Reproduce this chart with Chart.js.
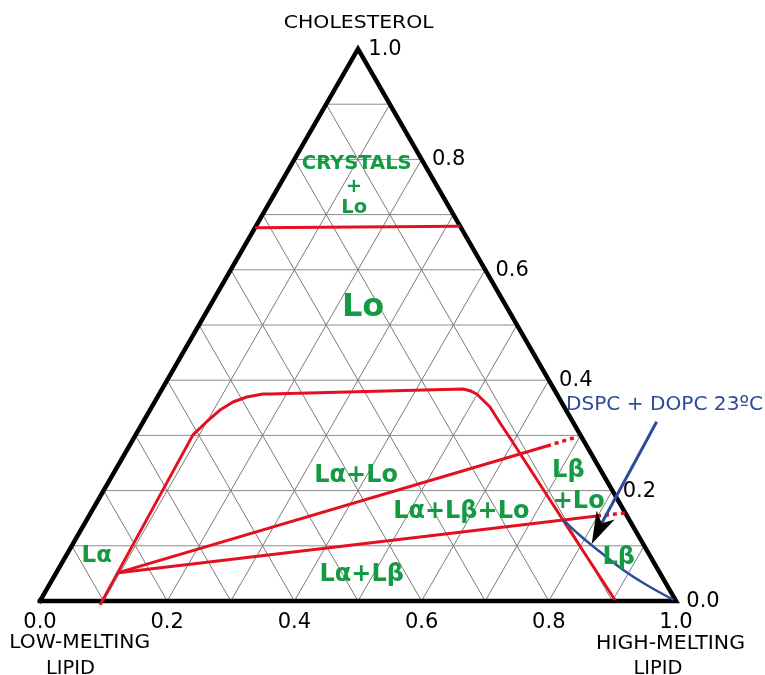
<!DOCTYPE html>
<html>
<head>
<meta charset="utf-8">
<script src="https://cdn.jsdelivr.net/npm/chart.js@4.4.0/dist/chart.umd.min.js"></script>
<style>
  html, body { margin: 0; padding: 0; background: #ffffff; }
  canvas { display: block; }
</style>
</head>
<body>
<canvas id="ternary" width="765" height="675"></canvas>
<script>
// Compositions are written as [high-melting lipid fraction, cholesterol fraction];
// the low-melting lipid fraction is whatever remains.

const bottomTickLabels = ['0.0', '0.2', '0.4', '0.6', '0.8', '1.0'];
const bottomTickValues = [0.0, 0.2, 0.4, 0.6, 0.8, 1.0];
const rightTickLabels = ['0.0', '0.2', '0.4', '0.6', '0.8', '1.0'];
const rightTickValues = [0.0, 0.2, 0.4, 0.6, 0.8, 1.0];
const gridSteps = [0.1, 0.2, 0.3, 0.4, 0.5, 0.6, 0.7, 0.8, 0.9];

const triangleCorners = [[0, 0], [1, 0], [0, 1], [0, 0]];

// Crystals + Lo / Lo boundary
const crystalsBoundary = [[0.000, 0.676], [0.321, 0.679]];

// Boundary of the liquid-ordered (Lo) region
const loBoundary = [
  [0.098, -0.007], [0.090, 0.301], [0.0997, 0.3248], [0.110, 0.346],
  [0.1232, 0.3605], [0.1402, 0.3696], [0.1631, 0.375], [0.1741, 0.375],
  [0.4731, 0.3841], [0.4856, 0.381], [0.4991, 0.375], [0.5144, 0.3641],
  [0.5318, 0.3514], [0.5621, 0.3225], [0.5914, 0.2953], [0.7489, 0.1467],
  [0.9032, 0.0018]
];

// Tie lines of the three-phase triangle
const upperTieLine = [[0.0975, 0.0513], [0.6568, 0.2808]];
const upperTieExtension = [[0.6568, 0.2808], [0.697, 0.298]];
const lowerTieLine = [[0.0975, 0.0513], [0.7988, 0.1540]];
const lowerTieExtension = [[0.7988, 0.1540], [0.8401, 0.1594]];

// DSPC + DOPC at 23 ºC
const dspcDopcBoundary = [
  [0.7494, 0.1467], [0.7974, 0.1136], [0.8358, 0.0893],
  [0.8890, 0.0562], [0.9394, 0.0290], [0.995, 0.002]
];

// Pointer from the caption to the DSPC + DOPC curve: start, arrowhead base, tip
const pointerLine = [[0.8072, 0.3248], [0.8128, 0.1408]];
const pointerTip = [0.8158, 0.1033];

// Region names
const phaseLabels = ['CRYSTALS', '+', 'Lo', 'Lo', 'Lα+Lo', 'Lα+Lβ+Lo', 'Lα+Lβ', 'Lα', 'Lβ', '+Lo', 'Lβ'];

const SQ = Math.sqrt(3) / 2;
const toXY = ([h, c]) => ({ x: h + c / 2, y: c * SQ });

const RED = '#e5101f';
const GREEN = '#149a42';
const BLUE = '#2d4b9b';

function pathSet(points, color, width, order, extra) {
  return Object.assign({
    data: points.map(toXY),
    showLine: true,
    borderColor: color,
    backgroundColor: color,
    borderWidth: width,
    pointRadius: 0,
    pointHoverRadius: 0,
    fill: false,
    tension: 0,
    clip: false,
    order: order
  }, extra || {});
}

const datasets = [];
gridSteps.forEach(k => {
  datasets.push(pathSet([[0, k], [1 - k, k]], '#8c8c8c', 1, 10));
  datasets.push(pathSet([[k, 0], [k, 1 - k]], '#7a7a7a', 1, 10));
  datasets.push(pathSet([[1 - k, 0], [0, 1 - k]], '#7a7a7a', 1, 10));
});
datasets.push(pathSet(triangleCorners, '#000000', 4.5, 5, { borderJoinStyle: 'miter', borderCapStyle: 'square' }));
datasets.push(pathSet(crystalsBoundary, RED, 3, 3));
datasets.push(pathSet(loBoundary, RED, 3, 3, { borderJoinStyle: 'round' }));
datasets.push(pathSet(upperTieLine, RED, 3, 3));
datasets.push(pathSet(upperTieExtension, RED, 3.5, 3, { borderDash: [4, 4] }));
datasets.push(pathSet(lowerTieLine, RED, 3, 3));
datasets.push(pathSet(lowerTieExtension, RED, 3.5, 3, { borderDash: [4, 4] }));
datasets.push(pathSet(dspcDopcBoundary, BLUE, 2.5, 2, { tension: 0.4 }));
datasets.push(pathSet(pointerLine, BLUE, 3, 1));

// Where each piece of text sits, in plot units (x across, y up)
const phaseLabelStyle = [
  { x: 0.498, y: 0.677, size: 19.5 },
  { x: 0.4937, y: 0.642, size: 19.5 },
  { x: 0.494, y: 0.608, size: 19.5 },
  { x: 0.508, y: 0.447, size: 32 },
  { x: 0.497, y: 0.186, size: 24 },
  { x: 0.6624, y: 0.1297, size: 24 },
  { x: 0.5058, y: 0.0318, size: 24 },
  { x: 0.0892, y: 0.0617, size: 23 },
  { x: 0.8307, y: 0.1945, size: 24 },
  { x: 0.847, y: 0.1454, size: 24 },
  { x: 0.9099, y: 0.058, size: 24 }
];

const axisTitles = [
  { text: 'CHOLESTEROL', x: 0.5011, y: 0.8985, size: 18, width: 150 },
  { text: 'LOW-MELTING', x: 0.0624, y: -0.0742, size: 20, width: 141 },
  { text: 'LIPID', x: 0.048, y: -0.1145, size: 20, width: 49 },
  { text: 'HIGH-MELTING', x: 0.9914, y: -0.0753, size: 20, width: 149 },
  { text: 'LIPID', x: 0.9717, y: -0.1145, size: 20, width: 49 }
];

const ternaryDecor = {
  id: 'ternaryDecor',
  afterDatasetsDraw(chart) {
    const { ctx, scales: { x, y } } = chart;
    const toPx = p => [x.getPixelForValue(p.x), y.getPixelForValue(p.y)];

    function text(t, X, Y, font, color, width) {
      const [px, py] = toPx({ x: X, y: Y });
      ctx.save();
      ctx.font = font;
      ctx.fillStyle = color;
      ctx.textAlign = 'center';
      ctx.textBaseline = 'alphabetic';
      ctx.translate(px, py);
      if (width) {
        const w = ctx.measureText(t).width;
        ctx.scale(width / w, 1);
      }
      ctx.fillText(t, 0, 0);
      ctx.restore();
    }

    // arrowhead on the pointer
    const [bx, by] = toPx(toXY(pointerLine[1]));
    const [tx, ty] = toPx(toXY(pointerTip));
    const len = Math.hypot(tx - bx, ty - by);
    const ux = (tx - bx) / len, uy = (ty - by) / len;
    const nx = -uy, ny = ux;
    const headLen = 32, halfW = 10;
    ctx.save();
    ctx.fillStyle = '#000000';
    ctx.beginPath();
    ctx.moveTo(tx, ty);
    ctx.lineTo(tx - ux * headLen + nx * halfW, ty - uy * headLen + ny * halfW);
    ctx.lineTo(bx, by);
    ctx.lineTo(tx - ux * headLen - nx * halfW, ty - uy * headLen - ny * halfW);
    ctx.closePath();
    ctx.fill();
    ctx.restore();

    // bottom axis: high-melting lipid fraction
    bottomTickLabels.forEach((t, i) => {
      const [px, py] = toPx(toXY([bottomTickValues[i], 0]));
      ctx.save();
      ctx.font = "21px 'DejaVu Sans'";
      ctx.fillStyle = '#000000';
      ctx.textAlign = 'center';
      ctx.textBaseline = 'alphabetic';
      ctx.fillText(t, px, py + 27);
      ctx.restore();
    });

    // right side: cholesterol fraction
    rightTickLabels.forEach((t, i) => {
      const c = rightTickValues[i];
      const [px, py] = toPx(toXY([1 - c, c]));
      ctx.save();
      ctx.font = "21px 'DejaVu Sans'";
      ctx.fillStyle = '#000000';
      ctx.textAlign = 'center';
      ctx.textBaseline = 'alphabetic';
      ctx.fillText(t, px + 27, py + 6);
      ctx.restore();
    });

    axisTitles.forEach(a => text(a.text, a.x, a.y, a.size + "px 'DejaVu Sans'", '#000000', a.width));

    phaseLabels.forEach((t, i) => {
      const s = phaseLabelStyle[i];
      text(t, s.x, s.y, 'bold ' + s.size + "px 'DejaVu Sans'", GREEN);
    });

    // caption of the DSPC + DOPC curve
    const [cx, cy] = toPx({ x: 0.827, y: 0.2997 });
    ctx.save();
    ctx.font = "20px 'DejaVu Sans'";
    ctx.fillStyle = BLUE;
    ctx.textAlign = 'left';
    ctx.textBaseline = 'alphabetic';
    const cap = 'DSPC + DOPC 23ºC';
    const cw = ctx.measureText(cap).width;
    ctx.translate(cx, cy);
    ctx.scale(197 / cw, 1);
    ctx.fillText(cap, 0, 0);
    ctx.restore();
  }
};

new Chart(document.getElementById('ternary'), {
  type: 'scatter',
  data: { datasets: datasets },
  options: {
    responsive: false,
    devicePixelRatio: 1,
    animation: false,
    events: [],
    layout: { padding: { left: 40, right: 89, top: 49, bottom: 74 } },
    plugins: { legend: { display: false }, tooltip: { enabled: false }, title: { display: false } },
    scales: {
      x: { type: 'linear', min: 0, max: 1, display: false },
      y: { type: 'linear', min: 0, max: SQ, display: false }
    }
  },
  plugins: [ternaryDecor]
});
</script>
</body>
</html>
